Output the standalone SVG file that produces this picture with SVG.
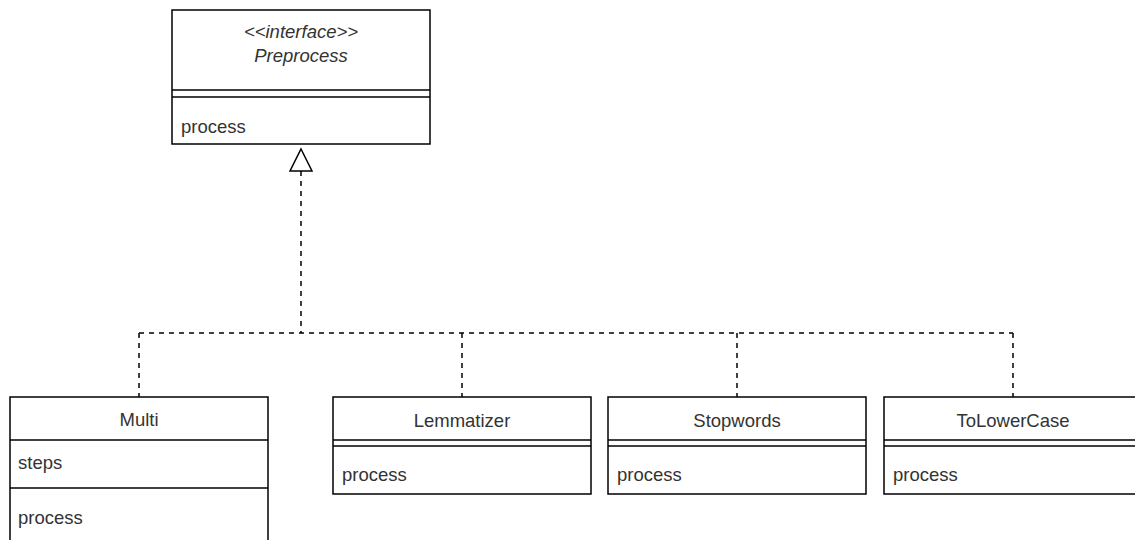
<svg xmlns="http://www.w3.org/2000/svg" width="1135" height="540" viewBox="0 0 1135 540">
  <style>
    .box { fill: #ffffff; stroke: #000000; stroke-width: 1.5; }
    .sep { fill: none; stroke: #000000; stroke-width: 1.5; }
    .dash { fill: none; stroke: #000000; stroke-width: 1.5; stroke-dasharray: 5 5; }
    .head { fill: #ffffff; stroke: #000000; stroke-width: 1.5; }
    text { font-family: "Liberation Sans", Arial, Helvetica, sans-serif; font-size: 18.5px; fill: #333333; }
    .c { text-anchor: middle; }
    .i { font-style: italic; }
  </style>

  <!-- realization connectors -->
  <g id="connectors">
    <path class="dash" d="M301,171 V333"/>
    <path class="dash" d="M139,333 H1013"/>
    <path class="dash" d="M139,333 V397"/>
    <path class="dash" d="M462,333 V397"/>
    <path class="dash" d="M737,333 V397"/>
    <path class="dash" d="M1013,333 V397"/>
    <polygon class="head" points="301,149 312,171 290,171"/>
  </g>

  <g id="preprocess">
    <rect class="box" x="172" y="10" width="258" height="134"/>
    <line class="sep" x1="172" y1="90" x2="430" y2="90"/>
    <line class="sep" x1="172" y1="97" x2="430" y2="97"/>
    <text class="c i" x="301" y="38">&lt;&lt;interface&gt;&gt;</text>
    <text class="c i" x="301" y="62">Preprocess</text>
    <text x="181" y="133">process</text>
  </g>

  <g id="multi">
    <rect class="box" x="10" y="397" width="258" height="160"/>
    <line class="sep" x1="10" y1="440" x2="268" y2="440"/>
    <line class="sep" x1="10" y1="488" x2="268" y2="488"/>
    <text class="c" x="139" y="426">Multi</text>
    <text x="18" y="469">steps</text>
    <text x="18" y="524">process</text>
  </g>

  <g id="lemmatizer">
    <rect class="box" x="333" y="397" width="258" height="97"/>
    <line class="sep" x1="333" y1="440" x2="591" y2="440"/>
    <line class="sep" x1="333" y1="446" x2="591" y2="446"/>
    <text class="c" x="462" y="427">Lemmatizer</text>
    <text x="342" y="481">process</text>
  </g>

  <g id="stopwords">
    <rect class="box" x="608" y="397" width="258" height="97"/>
    <line class="sep" x1="608" y1="440" x2="866" y2="440"/>
    <line class="sep" x1="608" y1="446" x2="866" y2="446"/>
    <text class="c" x="737" y="427">Stopwords</text>
    <text x="617" y="481">process</text>
  </g>

  <g id="tolowercase">
    <rect class="box" x="884" y="397" width="258" height="97"/>
    <line class="sep" x1="884" y1="440" x2="1142" y2="440"/>
    <line class="sep" x1="884" y1="446" x2="1142" y2="446"/>
    <text class="c" x="1013" y="427">ToLowerCase</text>
    <text x="893" y="481">process</text>
  </g>
</svg>
